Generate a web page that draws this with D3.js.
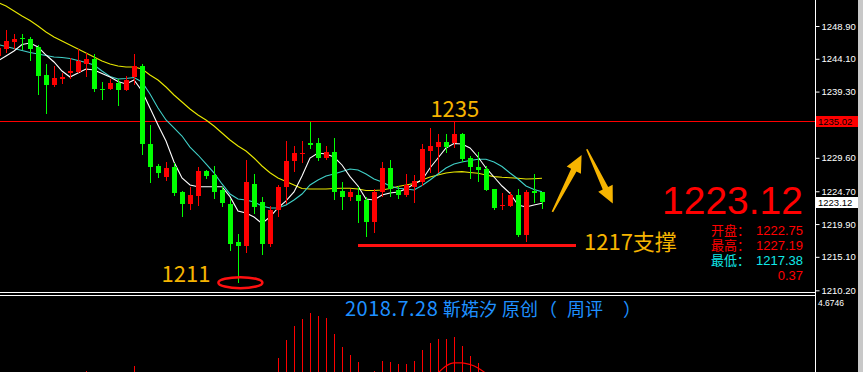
<!DOCTYPE html>
<html>
<head>
<meta charset="utf-8">
<script src="https://cdn.jsdelivr.net/npm/d3@7"></script>
<style>
body { margin: 0; background: #000; }
svg { display: block; }
</style>
</head>
<body>
<svg id="chart"></svg>
<script>
// Candles (index 0 is the half-hidden one at the left edge).
const opens = [1244.5, 1245.5, 1246.6, 1247.1, 1247.0, 1245.8, 1241.7, 1240.2, 1241.1, 1242.0,
    1242.1, 1243.4, 1244.1, 1239.7, 1239.7, 1240.5, 1239.6, 1241.5, 1243.1, 1231.6,
    1228.4, 1226.8, 1228.2, 1224.6, 1222.9, 1224.0, 1227.6, 1227.1, 1224.9, 1222.9,
    1217.2, 1216.7, 1225.8, 1223.2, 1217.0, 1221.9, 1225.3, 1229.1, 1230.2, 1231.8,
    1231.7, 1229.5, 1230.5, 1224.7, 1223.8, 1224.2, 1223.4, 1220.25, 1224.6, 1228.1,
    1224.9, 1224.2, 1225.3, 1226.1, 1230.6, 1231.2, 1231.9, 1231.7, 1233.1, 1229.5,
    1228.2, 1228.0, 1225.0, 1222.55, 1222.55, 1224.2, 1218.3, 1224.75, 1224.55];
const highs = [1246.3, 1248.3, 1247.7, 1247.8, 1247.25, 1246.1, 1243.4, 1243.0, 1242.0, 1244.2,
    1245.5, 1244.9, 1244.8, 1240.7, 1241.1, 1241.1, 1241.6, 1244.8, 1243.3, 1234.4,
    1228.7, 1229.0, 1228.8, 1224.8, 1225.3, 1228.3, 1227.8, 1228.4, 1225.3, 1223.5,
    1218.5, 1229.3, 1227.2, 1223.8, 1222.6, 1225.6, 1232.0, 1231.3, 1232.1, 1234.9,
    1232.5, 1231.3, 1232.5, 1226.0, 1225.0, 1225.3, 1223.8, 1225.1, 1229.0, 1229.3,
    1225.5, 1227.2, 1227.1, 1231.6, 1233.9, 1233.1, 1233.1, 1234.9, 1233.3, 1229.8,
    1230.4, 1228.4, 1225.1, 1224.5, 1224.6, 1225.1, 1224.9, 1227.2, 1224.65];
const lows = [1243.6, 1245.0, 1245.6, 1245.4, 1243.8, 1238.8, 1236.0, 1240.0, 1240.4, 1241.2,
    1242.0, 1241.5, 1239.3, 1238.0, 1239.5, 1237.2, 1239.4, 1240.2, 1230.0, 1225.9,
    1226.6, 1226.2, 1224.0, 1220.9, 1221.9, 1222.6, 1226.5, 1223.5, 1222.4, 1216.0,
    1211.2, 1215.6, 1221.3, 1215.3, 1216.6, 1220.9, 1222.9, 1227.5, 1228.9, 1230.85,
    1229.1, 1229.3, 1223.4, 1222.0, 1223.3, 1220.1, 1218.0, 1218.6, 1223.9, 1223.8,
    1223.5, 1223.8, 1223.0, 1225.5, 1227.4, 1227.4, 1230.3, 1231.1, 1229.0, 1226.5,
    1226.1, 1224.7, 1222.0, 1221.9, 1222.35, 1218.0, 1217.3, 1223.0, 1222.06];
const closes = [1245.7, 1246.7, 1247.0, 1246.95, 1245.5, 1241.6, 1240.3, 1241.3, 1241.5, 1242.3,
    1243.8, 1244.1, 1239.7, 1239.5, 1240.5, 1239.5, 1241.0, 1243.0, 1231.6, 1228.3,
    1227.4, 1228.1, 1224.5, 1222.8, 1224.2, 1227.6, 1226.9, 1224.6, 1223.0, 1217.0,
    1216.7, 1226.0, 1222.4, 1217.0, 1221.9, 1225.3, 1229.1, 1230.35, 1230.35, 1231.5,
    1229.6, 1230.5, 1224.6, 1223.8, 1224.6, 1223.3, 1220.25, 1224.6, 1228.1, 1225.1,
    1224.2, 1225.6, 1226.25, 1230.9, 1231.3, 1231.9, 1231.2, 1233.1, 1229.4, 1228.2,
    1227.8, 1224.9, 1222.2, 1222.7, 1224.2, 1218.3, 1224.6, 1224.5, 1223.12];

// Moving averages, one value per candle.
const maFast = [1243.78, 1244.51, 1245.24, 1246.19, 1246.41, 1245.83, 1244.65, 1243.63, 1242.31, 1241.43,
    1242.02, 1242.60, 1242.46, 1241.95, 1241.43, 1240.77, 1240.41, 1240.99, 1239.38, 1236.89,
    1234.41, 1232.06, 1228.99, 1226.64, 1225.62, 1225.37, 1225.37, 1225.37, 1225.37, 1223.91,
    1221.81, 1221.52, 1220.94, 1219.98, 1220.94, 1222.25, 1223.28, 1224.60, 1226.94, 1229.57,
    1230.31, 1230.16, 1229.72, 1228.55, 1226.84, 1225.47, 1223.57, 1223.42, 1224.16, 1224.45,
    1224.60, 1225.03, 1225.77, 1226.35, 1228.11, 1229.57, 1231.04, 1231.70, 1231.62, 1231.04,
    1229.72, 1228.11, 1226.79, 1225.47, 1224.41, 1222.69, 1222.40, 1222.69, 1222.94];
const maMid = [1246.19, 1245.90, 1245.61, 1245.31, 1245.02, 1244.80, 1244.58, 1244.36, 1244.29, 1244.14,
    1243.85, 1243.56, 1243.19, 1242.31, 1241.51, 1241.14, 1241.21, 1241.36, 1240.70, 1238.94,
    1236.89, 1235.14, 1233.97, 1232.79, 1231.18, 1230.01, 1228.70, 1227.38, 1225.77, 1224.30,
    1223.57, 1223.42, 1223.13, 1222.55, 1222.25, 1222.25, 1222.69, 1223.42, 1224.30, 1225.62,
    1226.35, 1226.94, 1227.23, 1227.60, 1227.96, 1227.82, 1227.23, 1226.50, 1226.06, 1225.47,
    1225.14, 1225.03, 1224.89, 1225.55, 1226.35, 1227.23, 1228.11, 1228.70, 1228.99, 1229.21,
    1229.38, 1229.38, 1228.99, 1228.33, 1227.38, 1226.50, 1225.47, 1224.96, 1224.64];
const maSlow = [1252.34, 1251.83, 1251.10, 1250.36, 1249.71, 1248.90, 1248.02, 1247.29, 1246.70, 1246.12,
    1245.53, 1244.95, 1244.36, 1243.78, 1243.34, 1243.04, 1242.90, 1242.90, 1242.60, 1241.73,
    1240.99, 1239.97, 1238.80, 1237.77, 1236.75, 1235.87, 1235.14, 1234.26, 1233.23, 1232.21,
    1231.33, 1230.60, 1229.57, 1228.40, 1227.42, 1226.64, 1226.13, 1225.62, 1225.11, 1225.03,
    1225.03, 1225.03, 1225.11, 1225.14, 1225.14, 1225.03, 1224.82, 1224.82, 1224.89, 1225.11,
    1225.40, 1225.62, 1225.84, 1226.35, 1226.79, 1227.08, 1227.38, 1227.52, 1227.57, 1227.45,
    1227.33, 1227.08, 1226.84, 1226.75, 1226.69, 1226.60, 1226.50, 1226.54, 1226.60];

// Lower panel: histogram bars (only the tops above the cut are visible) and a signal curve.
const histValues = [0, 0, 0, 0, 0, 0, 0, 0, 0, 0, 0,
    0.51, 0, 0, 0, 0, 0, 0.79,
    0, 0, 0, 0, 0, 0, 0, 0, 0, 0, 0, 0, 0, 0, 0, 0, 0,
    1.26, 2.25, 3.04, 3.44, 3.76, 3.62, 3.49, 2.59, 1.84, 1.41, 1.01, 0.25, 0.51, 1.07, 1.01,
    0.90, 0.90, 1.07, 1.69, 2.08, 2.31, 2.31, 2.42, 1.92, 1.35, 0.97,
    0, 0, 0, 0, 0, 0, 0, 0];
const signalStart = 55;
const signalValues = [0.39, 0.79, 0.97, 0.97, 0.87, 0.68, 0.37];
const subMax = 4.6746;

// Price axis.
const tickValues = [1248.90, 1244.10, 1239.30, 1234.40, 1229.60, 1224.70, 1219.90, 1215.10, 1210.20];
const markerPrice = 1235.02;

// Quote box.
const quoteLabels = ["开盘：", "最高：", "最低："];
const quoteValues = ["1222.75", "1227.19", "1217.38"];
const quoteChange = "0.37";
// Title, in pieces so each one can sit where the picture has it.
const titleParts = ["2018.7.28", "靳婼汐", "原创", "（", "周评", "）"];

const W = 863, H = 372;
const axisX = 815, mainBottom = 292;
const svg = d3.select("#chart").attr("width", W).attr("height", H)
    .style("background", "#000");

const x = d3.scaleLinear().domain([0, opens.length - 1]).range([-2, 542]);
const y = d3.scaleLinear().domain([1210.2, 1248.9]).range([290.3, 26]);
const ySub = d3.scaleLinear().domain([0, subMax]).range([380, 297]);

const defs = svg.append("defs");
defs.append("clipPath").attr("id", "clipMain").append("rect")
    .attr("x", 0).attr("y", 0).attr("width", axisX).attr("height", mainBottom);
defs.append("clipPath").attr("id", "clipSub").append("rect")
    .attr("x", 0).attr("y", 296).attr("width", axisX).attr("height", H - 296);

const candles = opens.map((o, k) => ({ k: k, o: o, h: highs[k], l: lows[k], c: closes[k] }));

const main = svg.append("g").attr("clip-path", "url(#clipMain)");

// Horizontal marker line at the last bid.
main.append("line")
    .attr("x1", 0).attr("x2", axisX)
    .attr("y1", Math.round(y(markerPrice)) + 0.5).attr("y2", Math.round(y(markerPrice)) + 0.5)
    .attr("stroke", "#ff0000");

// Moving averages.
const maLine = d3.line().x((d, k) => x(k)).y(d => y(d));
[[maSlow, "#e8e800"], [maMid, "#40d0c8"], [maFast, "#ffffff"]].forEach(([vals, col]) => {
    main.append("path").attr("d", maLine(vals))
        .attr("fill", "none").attr("stroke", col).attr("stroke-width", 1.1);
});

// Candles: red for up, green for down.
const cg = main.append("g").attr("shape-rendering", "crispEdges");
cg.selectAll("line.wick").data(candles).join("line")
    .attr("class", "wick")
    .attr("x1", d => Math.round(x(d.k)) + 0.5).attr("x2", d => Math.round(x(d.k)) + 0.5)
    .attr("y1", d => y(d.h)).attr("y2", d => y(d.l))
    .attr("stroke", d => d.c >= d.o ? "#ff0000" : "#00ff00");
cg.selectAll("rect.body").data(candles).join("rect")
    .attr("class", "body")
    .attr("x", d => Math.round(x(d.k)) - 2)
    .attr("width", 5)
    .attr("y", d => y(Math.max(d.o, d.c)))
    .attr("height", d => Math.max(1, y(Math.min(d.o, d.c)) - y(Math.max(d.o, d.c))))
    .attr("fill", d => d.c >= d.o ? "#ff0000" : "#00ff00");

// Annotations, placed in chart coordinates.
const gold = "#f6b400";
const notes = [
    { k: 57.1, p: 1235.6, text: "1235", anchor: "middle" },
    { k: 23.5, p: 1211.45, text: "1211", anchor: "middle" },
    { k: 73.25, p: 1216.1, text: "1217支撑", anchor: "start" }
];
main.selectAll("text.note").data(notes).join("text")
    .attr("class", "note")
    .attr("x", d => x(d.k)).attr("y", d => y(d.p))
    .attr("text-anchor", d => d.anchor)
    .attr("fill", gold)
    .style("font-family", "'Noto Sans CJK SC', 'Liberation Sans', sans-serif")
    .style("font-size", "22px")
    .text(d => d.text);

// Ring round the low.
main.append("ellipse")
    .attr("cx", x(30.3)).attr("cy", y(lows[30]) - 0.8)
    .attr("rx", 22).attr("ry", 5.5)
    .attr("fill", "none").attr("stroke", "#ff1010").attr("stroke-width", 2.5);

// Support line.
main.append("line")
    .attr("x1", x(45)).attr("x2", x(72.25))
    .attr("y1", y(1216.76)).attr("y2", y(1216.76))
    .attr("stroke", "#ff1010").attr("stroke-width", 3);

// Arrows.
function arrowPath(x0, y0, x1, y1) {
    const dx = x1 - x0, dy = y1 - y0, L = Math.hypot(dx, dy);
    const ux = dx / L, uy = dy / L, nx = -uy, ny = ux;
    const hl = 17, hw = 8, tw = 0.8, sw = 3;
    const bx = x1 - ux * hl, by = y1 - uy * hl;
    const pts = [[x0 + nx * tw, y0 + ny * tw], [bx + nx * sw, by + ny * sw], [bx + nx * hw, by + ny * hw],
        [x1, y1], [bx - nx * hw, by - ny * hw], [bx - nx * sw, by - ny * sw], [x0 - nx * tw, y0 - ny * tw]];
    return d3.line()(pts) + "Z";
}
const arrows = [
    { k0: 69.3, p0: 1221.7, k1: 72.95, p1: 1230.0 },
    { k0: 73.6, p0: 1230.85, k1: 76.85, p1: 1222.9 }
];
main.selectAll("path.arrow").data(arrows).join("path")
    .attr("class", "arrow")
    .attr("d", d => arrowPath(x(d.k0), y(d.p0), x(d.k1), y(d.p1)))
    .attr("fill", gold);

// Quote box.
const lastClose = closes[closes.length - 1];
svg.append("text").attr("x", 803).attr("y", 214)
    .attr("text-anchor", "end").attr("fill", "#ff0000")
    .style("font-family", "'Liberation Sans', Arial, sans-serif").style("font-size", "39px")
    .text(lastClose.toFixed(2));
const quoteColors = ["#ff0000", "#ff0000", "#10e8e8"];
quoteLabels.forEach((lab, i) => {
    const yy = 235 + i * 15;
    // Latin font first keeps the line box compact; the CJK glyphs fall back to Noto.
    svg.append("text").attr("x", 711).attr("y", yy).attr("fill", quoteColors[i])
        .style("font-family", "'Liberation Sans', 'Noto Sans CJK SC', sans-serif").style("font-size", "13px")
        .text(lab);
    svg.append("text").attr("x", 803).attr("y", yy).attr("text-anchor", "end").attr("fill", quoteColors[i])
        .style("font-family", "'Liberation Sans', Arial, sans-serif").style("font-size", "13px")
        .text(quoteValues[i]);
});
svg.append("text").attr("x", 803).attr("y", 280).attr("text-anchor", "end").attr("fill", "#ff0000")
    .style("font-family", "'Liberation Sans', Arial, sans-serif").style("font-size", "13px")
    .text(quoteChange);

// Panel separators.
[292.5, 295.5].forEach(yy => {
    svg.append("line").attr("x1", 0).attr("x2", axisX).attr("y1", yy).attr("y2", yy)
        .attr("stroke", "#ffffff");
});

// Lower panel.
const sub = svg.append("g").attr("clip-path", "url(#clipSub)");
sub.append("g").attr("shape-rendering", "crispEdges")
    .selectAll("line").data(histValues.map((v, k) => ({ k: k, v: v })).filter(d => d.v > 0)).join("line")
    .attr("x1", d => Math.round(x(d.k)) + 0.5).attr("x2", d => Math.round(x(d.k)) + 0.5)
    .attr("y1", ySub(0)).attr("y2", d => ySub(d.v))
    .attr("stroke", "#ff0000");
sub.append("path")
    .attr("d", d3.line().curve(d3.curveMonotoneX)
        .x((d, i) => x(signalStart + i)).y(d => ySub(d))(signalValues))
    .attr("fill", "none").attr("stroke", "#ff0000").attr("stroke-width", 1.2);

const titleX = [345, 443, 502, 539, 567, 623];
const title = sub.append("text").attr("y", 315.5).attr("fill", "#1e90ff")
    .style("font-family", "'Noto Sans CJK SC', sans-serif").style("font-size", "18px");
title.selectAll("tspan").data(titleParts).join("tspan")
    .attr("x", (d, i) => titleX[i])
    .style("font-size", (d, i) => i === 0 ? "20px" : null)
    .style("letter-spacing", (d, i) => i === 0 ? "0.5px" : null)
    .text(d => d);

// Price axis.
svg.append("line").attr("x1", axisX + 0.5).attr("x2", axisX + 0.5).attr("y1", 0).attr("y2", H)
    .attr("stroke", "#ffffff");
const axis = svg.append("g").attr("transform", `translate(${axisX + 0.5},0)`)
    .call(d3.axisRight(y).tickValues(tickValues).tickSize(4).tickPadding(2).tickFormat(d3.format(".2f")));
axis.select(".domain").remove();
axis.selectAll("line").attr("stroke", "#ffffff");
axis.selectAll("text").attr("fill", "#ffffff")
    .style("font-family", "'Liberation Sans', Arial, sans-serif").style("font-size", "9.5px");
// The tick under the red price tag is covered in the picture.
axis.selectAll(".tick").filter(d => Math.abs(y(d) - y(markerPrice)) < 8).select("text").remove();

// Price tags on the axis.
function priceTag(p, bg, txt) {
    const yy = y(p);
    svg.append("rect").attr("x", axisX + 1).attr("y", Math.round(yy) - 5).attr("width", 42).attr("height", 11)
        .attr("fill", bg);
    svg.append("text").attr("x", axisX + 3).attr("y", Math.round(yy) + 3.5).attr("fill", txt)
        .style("font-family", "'Liberation Sans', Arial, sans-serif").style("font-size", "9.5px")
        .text(p.toFixed(2));
}
priceTag(markerPrice, "#ff0000", "#000000");
priceTag(lastClose, "#ffffff", "#000000");

svg.append("text").attr("x", 818).attr("y", 306).attr("fill", "#ffffff")
    .style("font-family", "'Liberation Sans', Arial, sans-serif").style("font-size", "8.5px")
    .text(subMax.toFixed(4));

// Window edge on the right.
svg.append("rect").attr("x", 858).attr("y", 0).attr("width", W - 858).attr("height", H)
    .attr("fill", "#c8c8c8");
</script>
</body>
</html>
